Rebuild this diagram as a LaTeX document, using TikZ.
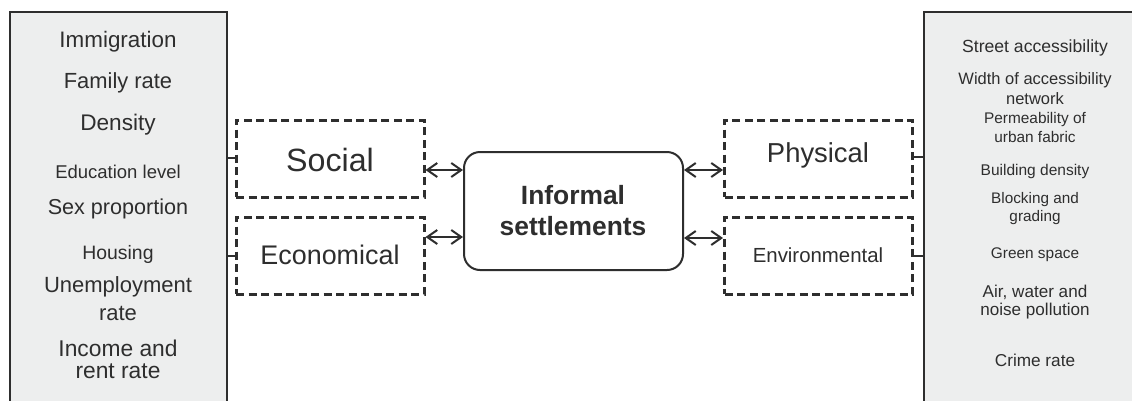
\documentclass[tikz,border=0pt]{standalone}
\usepackage{fontspec}
\setmainfont{Liberation Sans}
\usetikzlibrary{arrows.meta}
\definecolor{ink}{HTML}{2E2E2E}
\definecolor{panelfill}{HTML}{EDEEEE}
\tikzset{
  panel/.style={draw=ink, line width=2pt, fill=panelfill},
  dbox/.style={draw=ink, line width=3pt, dash pattern=on 8pt off 4.5pt, minimum width=188pt, minimum height=77pt, inner sep=0pt, text=ink},
  cbox/.style={draw=ink, line width=2pt, rounded corners=16pt, minimum width=219pt, minimum height=118pt, inner sep=0pt, align=center, text=ink},
  item/.style={align=center, text=ink, inner sep=0pt},
  link/.style={draw=ink, line width=2pt, {Straight Barb[length=10pt,width=14pt]}-{Straight Barb[length=10pt,width=14pt]}},
  tick/.style={draw=ink, line width=1.3pt},
}
\newcommand{\fs}[1]{\fontsize{#1}{30}\selectfont}
\begin{document}
\begin{tikzpicture}[x=1pt,y=-1pt]
\useasboundingbox (0,0) rectangle (1132,400);
\clip (0,0) rectangle (1132,400);
\fill[white] (0,0) rectangle (1132,400);
% panels
\draw[panel] (10,12) rectangle (227,420);
\draw[panel] (924,12) rectangle (1150,420);
\coordinate (lp1) at (227,158);
\coordinate (lp2) at (227,256);
\coordinate (rp1) at (924,157);
\coordinate (rp2) at (924,256);
\coordinate (ya) at (0,170);
\coordinate (yb) at (0,237);
\coordinate (yc) at (0,238);
% left items
\node[item, font=\fs{22.4}] (i1) at (118,42) {Immigration};
\node[item, font=\fs{21.9}] (i2) at (118,83) {Family rate};
\node[item, font=\fs{22.6}] (i3) at (118,125) {Density};
\node[item, font=\fs{18.5}] (i4) at (118,172) {Education level};
\node[item, font=\fs{21.6}] (i5) at (118,209) {Sex proportion};
\node[item, font=\fs{19.4}] (i6) at (118,254) {Housing};
\node[item, font=\fs{22}] (i7) at (118,287) {Unemployment};
\node[item, font=\fs{22}] (i7b) at (118,313) {rate};
\node[item, font=\fs{22.8}] (i8) at (118,348) {Income and};
\node[item, font=\fs{22.8}] (i8b) at (118,371) {rent rate};
% right items
\node[item, font=\fs{17.6}] (r1) at (1035,48) {Street accessibility};
\node[item, font=\fs{16.5}] (r2) at (1035,80) {Width of accessibility};
\node[item, font=\fs{16.5}] (r2b) at (1035,99) {network};
\node[item, font=\fs{15.4}] (r3) at (1035,120) {Permeability of};
\node[item, font=\fs{15.4}] (r3b) at (1035,137) {urban fabric};
\node[item, font=\fs{15.5}] (r4) at (1035,171) {Building density};
\node[item, font=\fs{15.3}] (r5) at (1035,200) {Blocking and};
\node[item, font=\fs{15.3}] (r5b) at (1035,218) {grading};
\node[item, font=\fs{15.4}] (r6) at (1035,255) {Green space};
\node[item, font=\fs{17.1}] (r7) at (1035,292) {Air, water and};
\node[item, font=\fs{17.1}] (r7b) at (1035,311) {noise pollution};
\node[item, font=\fs{17.2}] (r8) at (1035,360) {Crime rate};
% dashed boxes
\node[dbox] (soc) at (330,158.5) {};
\node[item, font=\fs{32.2}] (soct) at (330,160) {Social};
\node[dbox] (eco) at (330,255.5) {};
\node[item, font=\fs{26.9}] (ecot) at (330,255) {Economical};
\node[dbox] (phy) at (818.5,158.5) {};
\node[item, font=\fs{27.4}] (phyt) at (818,155) {Physical};
\node[dbox] (env) at (818.5,255.5) {};
\node[item, font=\fs{20.4}] (envt) at (818,255) {Environmental};
% centre
\node[cbox] (ctr) at (573.5,211) {};
\node[item, font=\bfseries\fs{26.4}] (ct1) at (573,195) {Informal};
\node[item, font=\bfseries\fs{26.4}] (ct2) at (573,226) {settlements};
% ticks
\draw[tick] (lp1) -- (soc.west |- lp1);
\draw[tick] (lp2) -- (eco.west |- lp2);
\draw[tick] (rp1) -- (phy.east |- rp1);
\draw[tick] (rp2) -- (env.east |- rp2);
% arrows
\draw[link] (soc.east |- ya) -- (ctr.west |- ya);
\draw[link] (eco.east |- yb) -- (ctr.west |- yb);
\draw[link] (ctr.east |- ya) -- (phy.west |- ya);
\draw[link] (ctr.east |- yc) -- (env.west |- yc);
\end{tikzpicture}
\end{document}
